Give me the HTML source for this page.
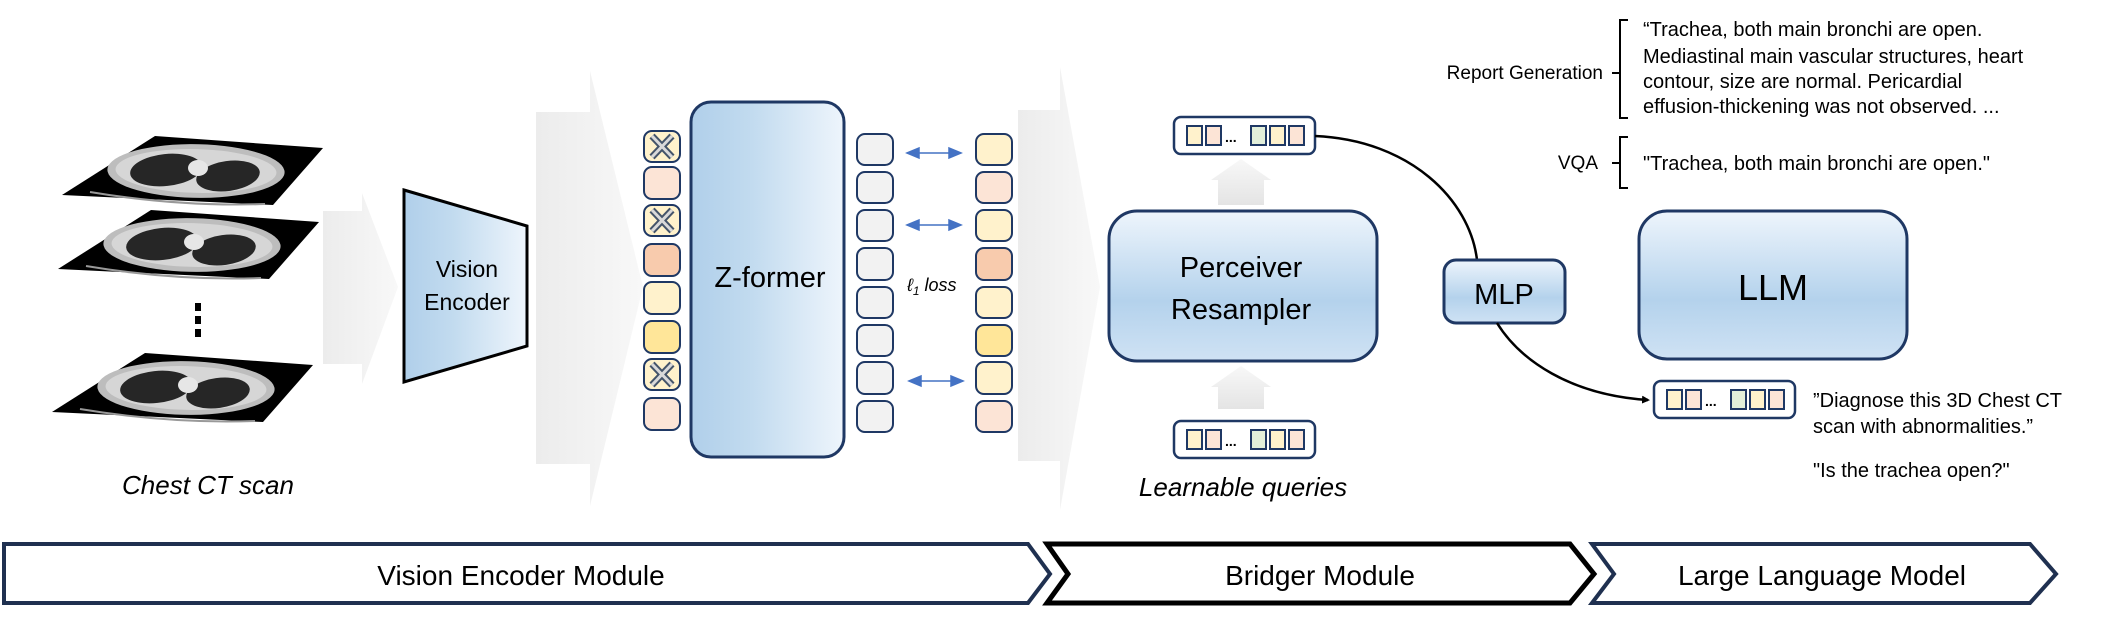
<!DOCTYPE html>
<html><head><meta charset="utf-8"><style>
html,body{margin:0;padding:0;background:#fff;}
svg{display:block;}
text{font-family:"Liberation Sans",sans-serif;fill:#000;}
</style></head><body>
<svg width="2102" height="617" viewBox="0 0 2102 617" xmlns="http://www.w3.org/2000/svg">
<defs>
<linearGradient id="ga" x1="0" x2="1" y1="0" y2="0"><stop offset="0" stop-color="#ececec"/><stop offset="1" stop-color="#f8f8f8"/></linearGradient>
<linearGradient id="gv" x1="0" x2="0" y1="0" y2="1"><stop offset="0" stop-color="#f8f8f8"/><stop offset="1" stop-color="#e4e4e4"/></linearGradient>
<linearGradient id="gb" x1="0" x2="1" y1="0" y2="0"><stop offset="0" stop-color="#b0cfea"/><stop offset="0.4" stop-color="#c2dbef"/><stop offset="1" stop-color="#eef5fc"/></linearGradient>
<linearGradient id="gbv" x1="0" x2="0" y1="0" y2="1"><stop offset="0" stop-color="#eef5fc"/><stop offset="0.6" stop-color="#b4d2ec"/><stop offset="1" stop-color="#cfe2f4"/></linearGradient>
<marker id="ah" markerWidth="8" markerHeight="8" refX="6" refY="4" orient="auto" markerUnits="userSpaceOnUse"><path d="M0,0 L8,4 L0,8 Z" fill="#000"/></marker>
<g id="slice">
<polygon points="155,136 323,148 273,205 62,195" fill="#000"/>
<ellipse cx="0" cy="0" rx="88" ry="27" fill="#bdbdbd" transform="translate(196,171) rotate(3) skewX(-20)"/>
<ellipse cx="0" cy="0" rx="80" ry="22" fill="#d6d6d6" transform="translate(196,171) rotate(3) skewX(-20)"/>
<ellipse cx="166" cy="170" rx="36" ry="16" fill="#262626" transform="rotate(-6 166 170)"/>
<ellipse cx="228" cy="176" rx="32" ry="15" fill="#262626" transform="rotate(-8 228 176)"/>
<ellipse cx="198" cy="168" rx="10" ry="8" fill="#e6e6e6"/>
<path d="M90,192 Q180,207 265,204" stroke="#999" stroke-width="2" fill="none"/>
</g>
<g id="strip">
<rect x="0" y="0" width="141" height="37" rx="7" fill="#fff" stroke="#1f3864" stroke-width="2.5"/>
<rect x="13" y="9" width="15" height="19" fill="#fff2cc" stroke="#1f3864" stroke-width="2"/>
<rect x="32" y="9" width="15" height="19" fill="#fce4d6" stroke="#1f3864" stroke-width="2"/>
<text x="51" y="25" font-size="14" font-weight="bold">...</text>
<rect x="77" y="9" width="15" height="19" fill="#e2efda" stroke="#1f3864" stroke-width="2"/>
<rect x="96" y="9" width="15" height="19" fill="#fff2cc" stroke="#1f3864" stroke-width="2"/>
<rect x="115" y="9" width="15" height="19" fill="#fce4d6" stroke="#1f3864" stroke-width="2"/>
</g>
</defs>

<use href="#slice"/>
<use href="#slice" transform="translate(-4,74)"/>
<use href="#slice" transform="translate(-10,217)"/>
<rect x="195" y="303" width="6" height="8" fill="#000"/>
<rect x="195" y="316" width="6" height="8" fill="#000"/>
<rect x="195" y="329" width="6" height="8" fill="#000"/>
<text x="208" y="494" font-size="26" font-style="italic" text-anchor="middle">Chest CT scan</text>

<polygon points="323,211 362,211 362,193 398,287 362,384 362,364 323,364" fill="url(#ga)"/>
<polygon points="536,112 590,112 590,71 643,287 590,506 590,464 536,464" fill="url(#ga)"/>
<polygon points="1018,110 1060,110 1060,67 1100,287 1060,510 1060,461 1018,461" fill="url(#ga)"/>

<polygon points="404,190 527,226 527,346 404,382" fill="url(#gb)" stroke="#000" stroke-width="3"/>
<text x="467" y="277" font-size="23" text-anchor="middle">Vision</text>
<text x="467" y="310" font-size="23" text-anchor="middle">Encoder</text>

<g stroke="#1f3864" stroke-width="2">
<rect x="644" y="131" width="36" height="31" rx="8" fill="#fff2cc"/>
<rect x="644" y="167" width="36" height="32" rx="8" fill="#fce4d6"/>
<rect x="644" y="205" width="36" height="31" rx="8" fill="#fff2cc"/>
<rect x="644" y="244" width="36" height="32" rx="8" fill="#f8cbad"/>
<rect x="644" y="282" width="36" height="32" rx="8" fill="#fff2cc"/>
<rect x="644" y="321" width="36" height="32" rx="8" fill="#ffe699"/>
<rect x="644" y="359" width="36" height="31" rx="8" fill="#fff2cc"/>
<rect x="644" y="398" width="36" height="32" rx="8" fill="#fce4d6"/>
</g>
<g stroke="#44546a" stroke-width="7">
<path d="M652,136 L672,157 M672,136 L652,157"/>
<path d="M652,210 L672,231 M672,210 L652,231"/>
<path d="M652,364 L672,385 M672,364 L652,385"/>
</g>
<g stroke="#d9d9d9" stroke-width="3">
<path d="M652,136 L672,157 M672,136 L652,157"/>
<path d="M652,210 L672,231 M672,210 L652,231"/>
<path d="M652,364 L672,385 M672,364 L652,385"/>
</g>

<rect x="691" y="102" width="153" height="355" rx="20" fill="url(#gb)" stroke="#1f3864" stroke-width="3"/>
<text x="770" y="287" font-size="29" text-anchor="middle">Z-former</text>

<g stroke="#1f3864" stroke-width="2">
<rect x="857" y="134" width="36" height="31" rx="8" fill="#f2f2f2"/>
<rect x="857" y="172" width="36" height="31" rx="8" fill="#f2f2f2"/>
<rect x="857" y="210" width="36" height="31" rx="8" fill="#f2f2f2"/>
<rect x="857" y="248" width="36" height="32" rx="8" fill="#f2f2f2"/>
<rect x="857" y="287" width="36" height="31" rx="8" fill="#f2f2f2"/>
<rect x="857" y="325" width="36" height="31" rx="8" fill="#f2f2f2"/>
<rect x="857" y="362" width="36" height="32" rx="8" fill="#f2f2f2"/>
<rect x="857" y="401" width="36" height="31" rx="8" fill="#f2f2f2"/>
<rect x="976" y="134" width="36" height="31" rx="8" fill="#fff2cc"/>
<rect x="976" y="172" width="36" height="31" rx="8" fill="#fce4d6"/>
<rect x="976" y="210" width="36" height="31" rx="8" fill="#fff2cc"/>
<rect x="976" y="248" width="36" height="32" rx="8" fill="#f8cbad"/>
<rect x="976" y="287" width="36" height="31" rx="8" fill="#fff2cc"/>
<rect x="976" y="325" width="36" height="31" rx="8" fill="#ffe699"/>
<rect x="976" y="362" width="36" height="32" rx="8" fill="#fff2cc"/>
<rect x="976" y="401" width="36" height="31" rx="8" fill="#fce4d6"/>
</g>
<g stroke="#4472c4" stroke-width="1.5" fill="#4472c4">
<line x1="915" y1="153" x2="953" y2="153"/><polygon points="907,153 919,148 919,158"/><polygon points="961,153 949,148 949,158"/>
<line x1="915" y1="225" x2="953" y2="225"/><polygon points="907,225 919,220 919,230"/><polygon points="961,225 949,220 949,230"/>
<line x1="917" y1="381" x2="955" y2="381"/><polygon points="909,381 921,376 921,386"/><polygon points="963,381 951,376 951,386"/>
</g>
<text x="907" y="291" font-size="18" font-style="italic" font-family="Liberation Serif">ℓ<tspan font-size="12" dy="4">1</tspan><tspan dy="-4"> loss</tspan></text>

<use href="#strip" x="1174" y="117"/>
<polygon points="1218,205 1218,180 1211,180 1241,159 1271,180 1264,180 1264,205" fill="url(#gv)"/>
<rect x="1109" y="211" width="268" height="150" rx="28" fill="url(#gbv)" stroke="#1f3864" stroke-width="3"/>
<text x="1241" y="277" font-size="29" text-anchor="middle">Perceiver</text>
<text x="1241" y="319" font-size="29" text-anchor="middle">Resampler</text>
<polygon points="1218,409 1218,387 1211,387 1241,366 1271,387 1264,387 1264,409" fill="url(#gv)"/>
<use href="#strip" x="1174" y="421"/>
<text x="1243" y="496" font-size="26" font-style="italic" text-anchor="middle">Learnable queries</text>

<path d="M1315,136 C1410,140 1470,200 1477,260" stroke="#000" stroke-width="2.5" fill="none"/>
<rect x="1444" y="260" width="121" height="63" rx="12" fill="url(#gbv)" stroke="#1f3864" stroke-width="3"/>
<text x="1504" y="304" font-size="29" text-anchor="middle">MLP</text>
<path d="M1497,323 C1520,360 1570,395 1648,400" stroke="#000" stroke-width="2.5" fill="none" marker-end="url(#ah)"/>

<rect x="1639" y="211" width="268" height="148" rx="28" fill="url(#gbv)" stroke="#1f3864" stroke-width="3"/>
<text x="1773" y="300" font-size="36" text-anchor="middle">LLM</text>
<use href="#strip" x="1654" y="381"/>
<text x="1813" y="407" font-size="20">”Diagnose this 3D Chest CT</text>
<text x="1813" y="433" font-size="20">scan with abnormalities.”</text>
<text x="1813" y="477" font-size="20">"Is the trachea open?"</text>

<text x="1603" y="79" font-size="19" text-anchor="end">Report Generation</text>
<path d="M1628,20 L1620,20 L1620,118 L1628,118 M1620,73 L1612,73" stroke="#000" stroke-width="2" fill="none"/>
<text x="1643" y="36" font-size="20">“Trachea, both main bronchi are open.</text>
<text x="1643" y="63" font-size="20">Mediastinal main vascular structures, heart</text>
<text x="1643" y="88" font-size="20">contour, size are normal. Pericardial</text>
<text x="1643" y="113" font-size="20">effusion-thickening was not observed. ...</text>
<text x="1598" y="169" font-size="19" text-anchor="end">VQA</text>
<path d="M1628,137 L1620,137 L1620,188 L1628,188 M1620,163 L1612,163" stroke="#000" stroke-width="2" fill="none"/>
<text x="1643" y="170" font-size="20">"Trachea, both main bronchi are open."</text>

<polygon points="4,544 1028,544 1050,574 1028,603 4,603" fill="#fff" stroke="#1f3050" stroke-width="4"/>
<text x="521" y="585" font-size="28" text-anchor="middle">Vision Encoder Module</text>
<polygon points="1047,544 1570,544 1594,574 1570,603 1047,603 1068,574" fill="#fff" stroke="#000" stroke-width="5"/>
<text x="1320" y="585" font-size="28" text-anchor="middle">Bridger Module</text>
<polygon points="1592,544 2030,544 2056,574 2030,603 1592,603 1614,574" fill="#fff" stroke="#1f3050" stroke-width="4"/>
<text x="1822" y="585" font-size="28" text-anchor="middle">Large Language Model</text>
</svg>
</body></html>
